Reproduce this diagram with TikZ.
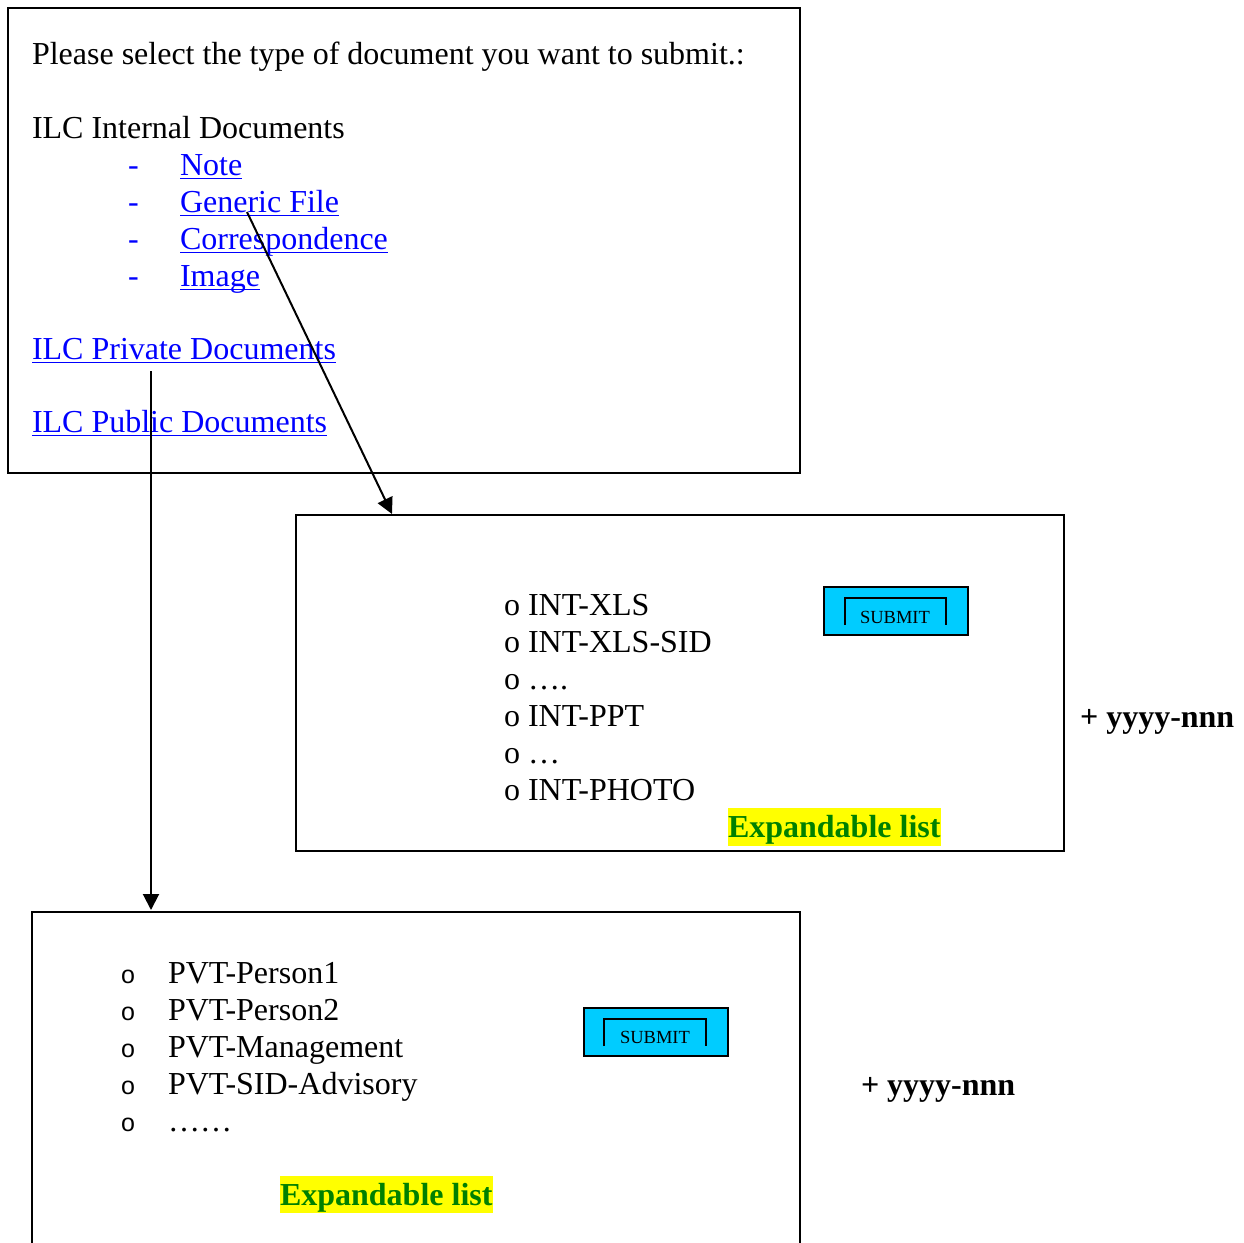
\documentclass[tikz,border=0pt]{standalone}
\usepackage{fontspec}
\setmainfont{Liberation Serif}
\newfontfamily\bulletfont{Liberation Sans}
\usetikzlibrary{arrows.meta}
\definecolor{linkblue}{HTML}{0000FF}
\definecolor{btncyan}{HTML}{00CCFF}
\definecolor{hlyellow}{HTML}{FFFF00}
\definecolor{dkgreen}{HTML}{008000}
\tikzset{
  frame/.style={draw=black, line width=1.8pt},
  txt/.style={anchor=base west, inner sep=0pt, outer sep=0pt, font=\fontsize{32}{37}\selectfont},
  linktxt/.style={txt, text=linkblue},
  boldtxt/.style={txt, font=\fontsize{32}{37}\selectfont\bfseries},
  hltxt/.style={txt, font=\fontsize{32}{37}\selectfont\bfseries, text=dkgreen},
  bullettxt/.style={txt, font=\bulletfont\fontsize{25}{37}\selectfont},
  btn/.style={draw=black, line width=2pt, fill=btncyan},
  btntxt/.style={anchor=base, inner sep=0pt, font=\fontsize{18.5}{20}\selectfont},
  conn/.style={line width=2pt, -{Triangle[length=16pt,width=16pt]}},
  uline/.style={linkblue, line width=1.8pt}
}
\newcommand{\ul}[1]{\draw[uline] ([yshift=-3.5pt]#1.base west) -- ([yshift=-3.5pt]#1.base east);}
\begin{document}
\begin{tikzpicture}[x=1pt,y=-1pt]
\useasboundingbox (0,0) rectangle (1243,1243);
\fill[white] (0,0) rectangle (1243,1243);

% Box 1
\draw[frame] (8,8) rectangle (800,473);
\node[txt] (please) at (32,64) {Please select the type of document you want to submit.:};
\node[txt] (internal) at (32,138) {ILC Internal Documents};
\node[linktxt] (d1) at (128,175) {-};
\node[linktxt] (note) at (180,175) {Note};
\node[linktxt] (d2) at (128,212) {-};
\node[linktxt] (generic) at (180,212) {Generic File};
\node[linktxt] (d3) at (128,249) {-};
\node[linktxt] (corr) at (180,249) {Correspondence};
\node[linktxt] (d4) at (128,286) {-};
\node[linktxt] (image) at (180,286) {Image};
\node[linktxt] (private) at (32,359) {ILC Private Documents};
\node[linktxt] (public) at (32,432) {ILC Public Documents};
\ul{note}\ul{generic}\ul{corr}\ul{image}\ul{private}\ul{public}

% Box 2
\draw[frame] (296,515) rectangle (1064,851);
\node[txt] (i1) at (504,615) {o INT-XLS};
\node[txt] (i2) at (504,652) {o INT-XLS-SID};
\node[txt] (i3) at (504,689) {o ….};
\node[txt] (i4) at (504,726) {o INT-PPT};
\node[txt] (i5) at (504,763) {o …};
\node[txt] (i6) at (504,800) {o INT-PHOTO};
\fill[hlyellow] (728,808) rectangle (941,846);
\node[hltxt] (exp1) at (728,837) {Expandable list};
\draw[btn] (824,587) rectangle (968,635);
\draw[line width=1.6pt] (845,625) -- (845,598) -- (946,598) -- (946,625);
\node[btntxt] (sub1) at (895,623) {SUBMIT};
\node[boldtxt] (plus1) at (1080,727) {+ yyyy-nnn};

% Box 3
\draw[frame] (32,1250) -- (32,912) -- (800,912) -- (800,1250);
\foreach \y/\t [count=\i] in {983/PVT-Person1,1020/PVT-Person2,1057/PVT-Management,1094/PVT-SID-Advisory,1131/……}{
  \node[bullettxt] (b\i) at (121,\y) {o};
  \node[txt] (p\i) at (168,\y) {\t};
}
\fill[hlyellow] (280,1176) rectangle (493,1213);
\node[hltxt] (exp2) at (280,1205) {Expandable list};
\draw[btn] (584,1008) rectangle (728,1056);
\draw[line width=1.6pt] (604,1046) -- (604,1019) -- (706,1019) -- (706,1046);
\node[btntxt] (sub2) at (655,1043) {SUBMIT};
\node[boldtxt] (plus2) at (861,1095) {+ yyyy-nnn};

% Connectors
\coordinate (gstart) at (247,212);
\coordinate (b2top) at (392,514);
\coordinate (pstart) at (151,371);
\coordinate (b3top) at (151,910);
\draw[conn] (gstart) -- (b2top);
\draw[conn] (pstart) -- (b3top);
\end{tikzpicture}
\end{document}
